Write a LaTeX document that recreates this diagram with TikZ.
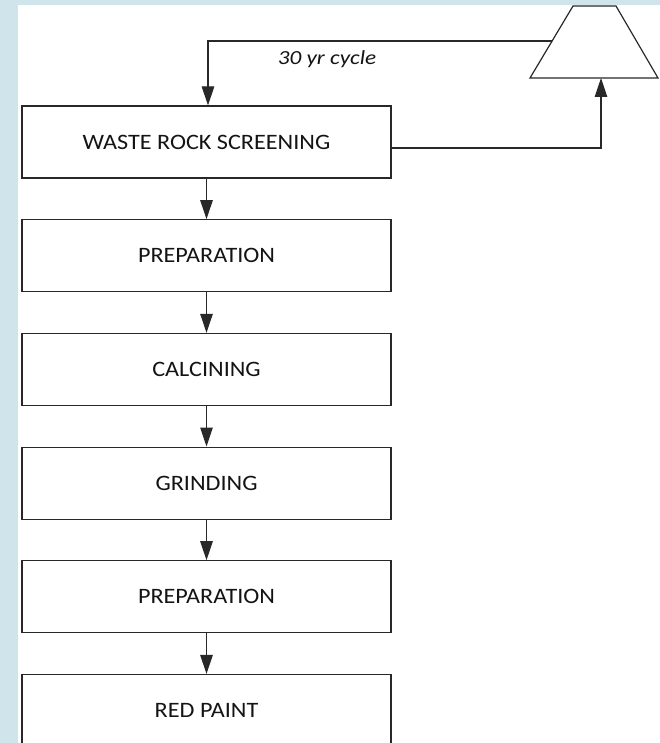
\documentclass[tikz,border=0pt]{standalone}
\usepackage{fontspec}
\usepackage{graphicx}
\setmainfont{Carlito}
\usetikzlibrary{arrows.meta,calc}
\definecolor{bgblue}{RGB}{208,228,236}
\definecolor{linecol}{RGB}{40,40,40}
\definecolor{txtcol}{RGB}{20,20,20}
\newcommand{\bxt}[1]{\scalebox{1.1}[1]{#1}}
\begin{document}
\begin{tikzpicture}[x=1pt,y=-1pt,
  procbox/.style={draw=linecol, line width=1.2pt, fill=white, minimum width=369pt, minimum height=72pt, inner sep=0pt, font=\fontsize{22}{26}\selectfont, text=txtcol},
  flow/.style={draw=linecol, line width=1.2pt, -{Triangle[length=19pt 0 0,width=12.5pt 0 0]}},
  conn/.style={draw=linecol, line width=1.2pt}]
\clip (0,0) rectangle (660,743);
\fill[bgblue] (0,0) rectangle (660,743);
\fill[white] (18,5) rectangle (660,743);
% process boxes
\node[procbox] (b1) at (206.5,142)   {\bxt{WASTE ROCK SCREENING}};
\node[procbox] (b2) at (206.5,255.7) {\bxt{PREPARATION}};
\node[procbox] (b3) at (206.5,369.4) {\bxt{CALCINING}};
\node[procbox] (b4) at (206.5,483.1) {\bxt{GRINDING}};
\node[procbox] (b5) at (206.5,596.8) {\bxt{PREPARATION}};
\node[procbox] (b6) at (206.5,710.5) {\bxt{RED PAINT}};
% trapezoid (stockpile)
\coordinate (tbl) at (530,78);
\coordinate (tbr) at (658,78);
\coordinate (ttr) at (616,6);
\coordinate (ttl) at (573,6);
\draw[conn, fill=white] (tbl) -- (ttl) -- (ttr) -- (tbr) -- cycle;
\coordinate (tin) at (601,78);
\coordinate (tleft) at ($(tbl)!0.514!(ttl)$);
% flow arrows
\draw[flow] (b1) -- (b2);
\draw[flow] (b2) -- (b3);
\draw[flow] (b3) -- (b4);
\draw[flow] (b4) -- (b5);
\draw[flow] (b5) -- (b6);
\draw[flow] ([yshift=-6pt]b1.east) -| (tin);
\draw[flow] (tleft) -| ([xshift=1.5pt]b1.north);
\node[anchor=base, font=\fontsize{20}{24}\selectfont\itshape, text=txtcol] (lbl) at (327,65) {\scalebox{1.16}[1]{30 yr cycle}};
\end{tikzpicture}
\end{document}
